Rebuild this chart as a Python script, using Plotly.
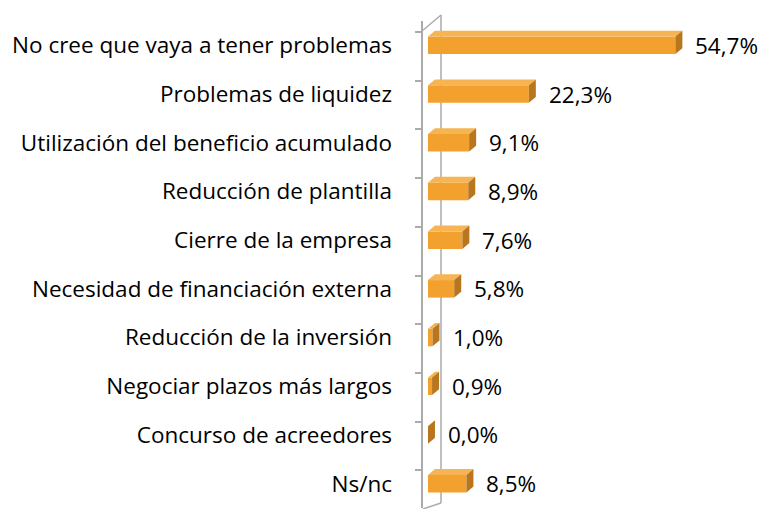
import plotly.graph_objects as go

# data
categories = [
    "No cree que vaya a tener problemas",
    "Problemas de liquidez",
    "Utilización del beneficio acumulado",
    "Reducción de plantilla",
    "Cierre de la empresa",
    "Necesidad de financiación externa",
    "Reducción de la inversión",
    "Negociar plazos más largos",
    "Concurso de acreedores",
    "Ns/nc",
]
values = [54.7, 22.3, 9.1, 8.9, 7.6, 5.8, 1.0, 0.9, 0.0, 8.5]
labels = [f"{v:.1f}%".replace(".", ",") for v in values]

font = "Open Sans"
gray = "#ABABAB"
half = 0.18   # half bar thickness (rows)
dx, dy = 1.55, 0.12  # 3D depth offset

fig = go.Figure()
fig.add_trace(go.Bar(
    y=categories, x=values, orientation="h",
    marker=dict(color="#F3A12E", line=dict(width=0)),
    width=2 * half,
    hoverinfo="skip",
))
# empty trace so the tick axis gets drawn
fig.add_trace(go.Scatter(x=[None], y=[None], yaxis="y2", showlegend=False,
                         hoverinfo="skip"))

for i, (v, t) in enumerate(zip(values, labels)):
    top = i - half
    bot = i + half
    # top face
    fig.add_shape(type="path", xref="x", yref="y", line=dict(width=0),
                  fillcolor="#F6B552",
                  path=f"M0,{top} L{v},{top} L{v + dx},{top - dy} L{dx},{top - dy} Z")
    # end face
    fig.add_shape(type="path", xref="x", yref="y", line=dict(width=0),
                  fillcolor="#B8771E",
                  path=f"M{v},{bot} L{v},{top} L{v + dx},{top - dy} L{v + dx},{bot - dy} Z")
    fig.add_annotation(x=v, y=i, text=t, showarrow=False, xanchor="left",
                       xshift=18, font=dict(family=font, size=22.5, color="#000"))

# 3D wall behind the axis
wall = [
    (0.0528, 0.0103, 0.0528, 1.0123),
    (0.0528, 1.0123, 0.0, 0.981),
    (0.0528, 0.0103, 0.0, -0.002),
]
for x0, y0, x1, y1 in wall:
    fig.add_shape(type="line", xref="paper", yref="paper", x0=x0, y0=y0,
                  x1=x1, y1=y1, line=dict(color=gray, width=1.5), layer="below")

fig.update_layout(
    width=764, height=509,
    margin=dict(l=423, r=0, t=21, b=1),
    paper_bgcolor="white", plot_bgcolor="white",
    showlegend=False,
    xaxis=dict(range=[-1.1, 74.3], visible=False),
    yaxis=dict(
        range=[9.5, -0.5], showline=False, ticks="",
        ticklabelstandoff=30,
        tickfont=dict(family=font, size=22.5, color="#000"),
        showgrid=False, automargin=False,
    ),
    # axis line and tick marks (offset like the 3D original)
    yaxis2=dict(
        overlaying="y", anchor="x", side="left", range=[9.774, -0.226],
        tickvals=list(range(10)), showticklabels=False, ticks="outside",
        ticklen=6, tickcolor=gray, tickwidth=1.5, showline=True,
        linecolor=gray, linewidth=1.5, showgrid=False, zeroline=False,
    ),
)

fig.write_html("out.html", config={"displayModeBar": False},
               post_script="document.body.style.margin='0';")
